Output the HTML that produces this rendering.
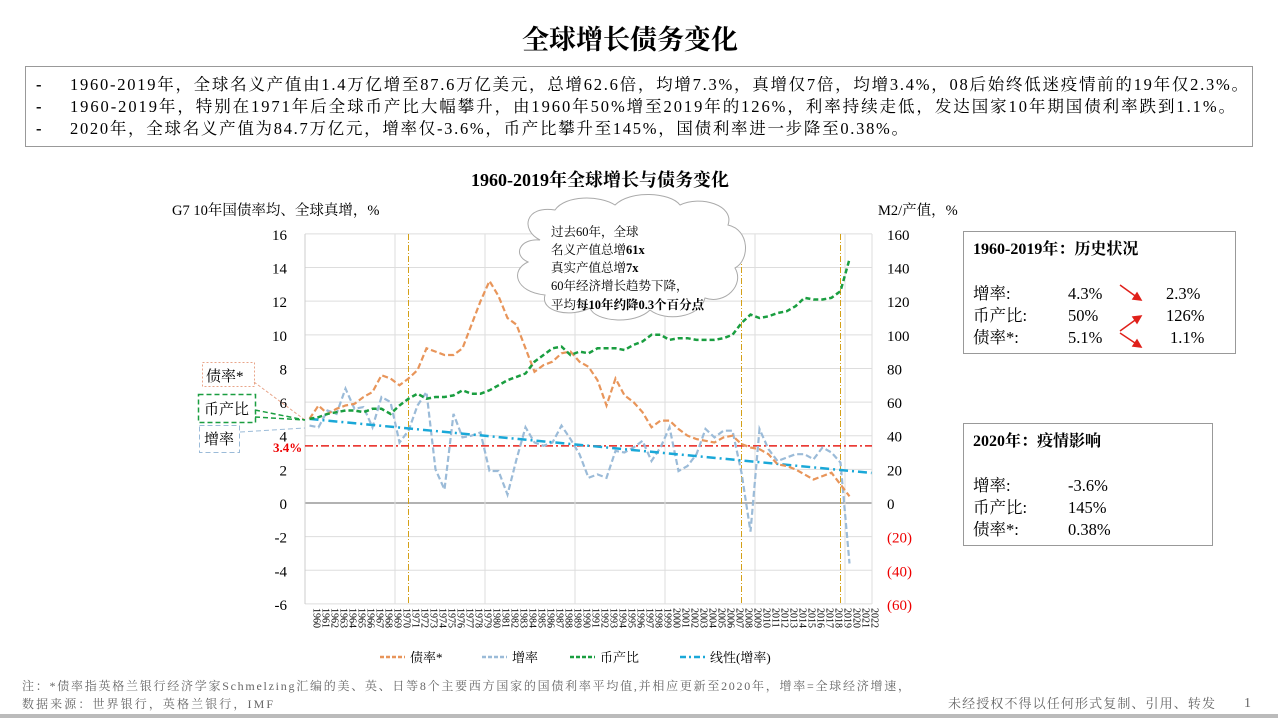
<!DOCTYPE html><html><head><meta charset="utf-8"><style>
body{margin:0;width:1278px;height:718px;background:#fff;overflow:hidden;font-family:"Liberation Serif","Noto Serif CJK SC",serif;}
svg text{font-family:"Liberation Serif","Noto Serif CJK SC",serif;}
</style></head><body>
<svg id="s" width="1278" height="718" xmlns="http://www.w3.org/2000/svg">
<text x="630" y="49" font-size="27" font-weight="bold" text-anchor="middle" font-family="Noto Sans CJK SC,sans-serif">全球增长债务变化</text>
<rect x="25.5" y="66.5" width="1227" height="80" fill="none" stroke="#999"/>
<g font-size="16.5" fill="#000">
<text x="36" y="90" font-weight="bold">-</text><text x="70" y="90" textLength="1178" lengthAdjust="spacing">1960-2019年，全球名义产值由1.4万亿增至87.6万亿美元，总增62.6倍，均增7.3%，真增仅7倍，均增3.4%，08后始终低迷疫情前的19年仅2.3%。</text>
<text x="36" y="112" font-weight="bold">-</text><text x="70" y="112" textLength="1165" lengthAdjust="spacing">1960-2019年，特别在1971年后全球币产比大幅攀升，由1960年50%增至2019年的126%，利率持续走低，发达国家10年期国债利率跌到1.1%。</text>
<text x="36" y="134" font-weight="bold">-</text><text x="70" y="134" textLength="838" lengthAdjust="spacing">2020年，全球名义产值为84.7万亿元，增率仅-3.6%，币产比攀升至145%，国债利率进一步降至0.38%。</text>
</g>
<text x="600" y="186" font-size="18" font-weight="bold" text-anchor="middle">1960-2019年全球增长与债务变化</text>
<text x="172" y="215" font-size="14.5">G7 10年国债率均、全球真增，%</text>
<text x="878" y="215" font-size="14.5">M2/产值，%</text>
<g id="grid"></g>
<g id="series"></g>
<g fill="#fff" stroke="#aaa" stroke-width="1">
<path d="M540,240 C520,230 525,205 555,210 C565,195 600,195 615,205 C630,190 670,192 680,205 C700,195 735,205 728,225 C750,230 750,260 735,268 C745,285 725,305 705,298 C700,318 665,322 650,310 C635,325 595,322 590,308 C570,318 540,312 545,295 C515,292 510,270 528,262 C512,255 520,238 540,240 Z"/>
</g>
<g font-size="12.5" fill="#000">
<text x="551" y="236">过去60年，全球</text>
<text x="551" y="254">名义产值总增<tspan font-weight="bold">61x</tspan></text>
<text x="551" y="272">真实产值总增<tspan font-weight="bold">7x</tspan></text>
<text x="551" y="290">60年经济增长趋势下降，</text>
<text x="551" y="309">平均<tspan font-weight="bold">每10年约降0.3个百分点</tspan></text>
</g>
<rect x="202.5" y="362.5" width="52" height="24" fill="none" stroke="#e8a58a" stroke-dasharray="2,2"/>
<text x="206" y="381" font-size="15">债率*</text>
<rect x="198.5" y="394.5" width="57" height="28" fill="none" stroke="#1a9e40" stroke-width="1.5" stroke-dasharray="5,3"/>
<text x="204" y="414" font-size="15">币产比</text>
<rect x="199.5" y="425.5" width="40" height="27" fill="none" stroke="#9bbbd8" stroke-dasharray="5,3"/>
<text x="204" y="444" font-size="15">增率</text>
<line x1="254" y1="382" x2="305" y2="420" stroke="#e8a58a" stroke-dasharray="3,2"/>
<line x1="255" y1="410" x2="305" y2="420" stroke="#1a9e40" stroke-width="1.5" stroke-dasharray="5,3"/>
<line x1="255" y1="417" x2="305" y2="420" stroke="#1a9e40" stroke-width="1.5" stroke-dasharray="5,3"/>
<line x1="240" y1="432" x2="305" y2="428" stroke="#9bbbd8" stroke-dasharray="5,3"/>
<text x="273" y="452" font-size="13" font-weight="bold" fill="#e00">3.4%</text>
<rect x="963.5" y="231.5" width="272" height="122" fill="#fff" stroke="#999"/>
<text x="973" y="254" font-size="16" font-weight="bold">1960-2019年：历史状况</text>
<g font-size="16.5"><text x="973" y="299">增率:</text><text x="1068" y="299">4.3%</text><text x="1166" y="299">2.3%</text>
<text x="973" y="321">币产比:</text><text x="1068" y="321">50%</text><text x="1166" y="321">126%</text>
<text x="973" y="343">债率*:</text><text x="1068" y="343">5.1%</text><text x="1170" y="343">1.1%</text></g>
<g stroke="#e0201a" stroke-width="1.5" fill="#e0201a">
<line x1="1120" y1="285" x2="1138" y2="298"/><polygon points="1141,300 1133,299 1137,293"/>
<line x1="1120" y1="331" x2="1138" y2="318"/><polygon points="1141,316 1137,323 1133,317"/>
<line x1="1120" y1="333" x2="1138" y2="345"/><polygon points="1141,347 1133,346 1137,340"/>
</g>
<rect x="963.5" y="423.5" width="249" height="122" fill="#fff" stroke="#999"/>
<text x="973" y="446" font-size="16" font-weight="bold">2020年：疫情影响</text>
<g font-size="16.5"><text x="973" y="491">增率:</text><text x="1068" y="491">-3.6%</text>
<text x="973" y="513">币产比:</text><text x="1068" y="513">145%</text>
<text x="973" y="535">债率*:</text><text x="1068" y="535">0.38%</text></g>
<g font-size="13">
<line x1="380" y1="657" x2="405" y2="657" stroke="#e8955a" stroke-width="2.5" stroke-dasharray="4,2"/><text x="410" y="662">债率*</text>
<line x1="482" y1="657" x2="507" y2="657" stroke="#9bbbd8" stroke-width="2.5" stroke-dasharray="4,2"/><text x="512" y="662">增率</text>
<line x1="570" y1="657" x2="595" y2="657" stroke="#1a9e40" stroke-width="2.5" stroke-dasharray="4,2"/><text x="600" y="662">币产比</text>
<line x1="680" y1="657" x2="705" y2="657" stroke="#1aa8d8" stroke-width="2.5" stroke-dasharray="6,3,2,3"/><text x="710" y="662">线性(增率)</text>
</g>
<g font-size="12" fill="#666">
<text x="22" y="690" textLength="888" lengthAdjust="spacing">注：*债率指英格兰银行经济学家Schmelzing汇编的美、英、日等8个主要西方国家的国债利率平均值,并相应更新至2020年，增率=全球经济增速，</text>
<text x="22" y="708" textLength="251" lengthAdjust="spacing">数据来源：世界银行，英格兰银行，IMF</text>
<text x="948" y="708" font-size="13" textLength="267" lengthAdjust="spacing">未经授权不得以任何形式复制、引用、转发</text>
<text x="1244" y="707" font-size="14">1</text>
</g>
<rect x="0" y="714" width="1278" height="4" fill="#bbb"/>
</svg>
<script>
var NS="http://www.w3.org/2000/svg";
function el(p,t,a,txt){var e=document.createElementNS(NS,t);for(var k in a)e.setAttribute(k,a[k]);if(txt!=null)e.textContent=txt;document.getElementById(p).appendChild(e);return e;}
var X0=305,W=9,YT=234,YB=604;
function yl(v){return 503-v*16.818;}
function yr(v){return 503-v*1.6818;}
function cx(i){return X0+W*(i+0.5);}
for(var v=-6;v<=16;v+=2){var y=yl(v);el('grid','line',{x1:X0,x2:872,y1:y,y2:y,stroke:v==0?'#999':'#ddd','stroke-width':v==0?1.5:1});
el('grid','text',{x:287,y:y+6,'font-size':15,'text-anchor':'end'},v);}
var rl=[160,140,120,100,80,60,40,20,0,'(20)','(40)','(60)'];
for(var k=0;k<rl.length;k++){var y=yl(16-2*k);el('grid','text',{x:887,y:y+6,'font-size':15,fill:k>8?'#e00':'#000'},rl[k]);}
for(var i=0;i<=60;i+=10){el('grid','line',{x1:X0+i*W,x2:X0+i*W,y1:YT,y2:YB,stroke:'#ddd'});}
el('grid','line',{x1:X0,x2:X0,y1:YT,y2:YB,stroke:'#ccc'});
el('grid','line',{x1:872,x2:872,y1:YT,y2:YB,stroke:'#ddd'});
for(var i=0;i<63;i++){var x=cx(i);
el('grid','text',{x:0,y:0,'font-size':10,transform:'translate('+(x+4)+',608) rotate(90)'},1960+i);}
[11,48,59].forEach(function(i){el('grid','line',{x1:cx(i),x2:cx(i),y1:YT,y2:YB,stroke:'#d4a017','stroke-dasharray':'6,2,1,2'});});
el('grid','line',{x1:X0,x2:872,y1:yl(3.4),y2:yl(3.4),stroke:'#e8201a','stroke-width':1.5,'stroke-dasharray':'8,3,2,3'});
var bond=[5.0,5.8,5.3,5.6,5.8,5.9,6.3,6.6,7.6,7.4,7.0,7.4,7.9,9.2,9.0,8.8,8.8,9.2,10.6,12.0,13.2,12.3,11.0,10.6,9.2,7.8,8.2,8.4,8.9,9.0,8.4,8.1,7.3,5.8,7.4,6.4,6.0,5.4,4.5,4.9,4.9,4.4,4.0,3.8,3.7,3.6,3.9,4.0,3.5,3.3,3.2,2.9,2.3,2.2,2.0,1.7,1.4,1.6,1.8,1.1,0.4];
var gr=[4.6,4.5,5.5,5.3,6.8,5.6,5.7,4.5,6.3,6.0,3.6,4.3,5.8,6.6,2.0,0.8,5.3,3.9,4.0,4.2,1.9,1.9,0.5,2.6,4.5,3.6,3.4,3.6,4.6,3.8,2.9,1.5,1.7,1.5,3.1,3.0,3.3,3.7,2.5,3.3,4.5,1.9,2.2,2.9,4.4,3.9,4.3,4.3,1.8,-1.7,4.4,3.2,2.5,2.7,2.9,2.9,2.6,3.3,3.0,2.4,-3.6];
var m2=[50,51,53,54,55,55,54,56,56,53,58,62,65,62,63,63,64,67,65,65,67,70,73,75,77,84,88,92,93,88,90,89,92,92,92,91,94,96,100,100,97,98,98,97,97,97,98,100,107,112,110,111,113,114,117,122,121,121,122,126,145];
function poly(d,f,c,w,da){var p=d.map(function(v,i){return cx(i).toFixed(1)+','+f(v).toFixed(1)}).join(' ');
el('series','polyline',{points:p,fill:'none',stroke:c,'stroke-width':w,'stroke-dasharray':da});}
poly(gr,yl,'#9bbbd8',2.2,'6,3');
el('series','line',{x1:cx(0),x2:cx(62)+4,y1:yl(5.0),y2:yl(5.0-0.0515*62.4),stroke:'#1aa8d8','stroke-width':2.5,'stroke-dasharray':'9,4,2,4'});
poly(bond,yl,'#e8955a',2.2,'6,3');
poly(m2,yr,'#1a9e40',2.5,'5,3');
</script>
</body></html>
